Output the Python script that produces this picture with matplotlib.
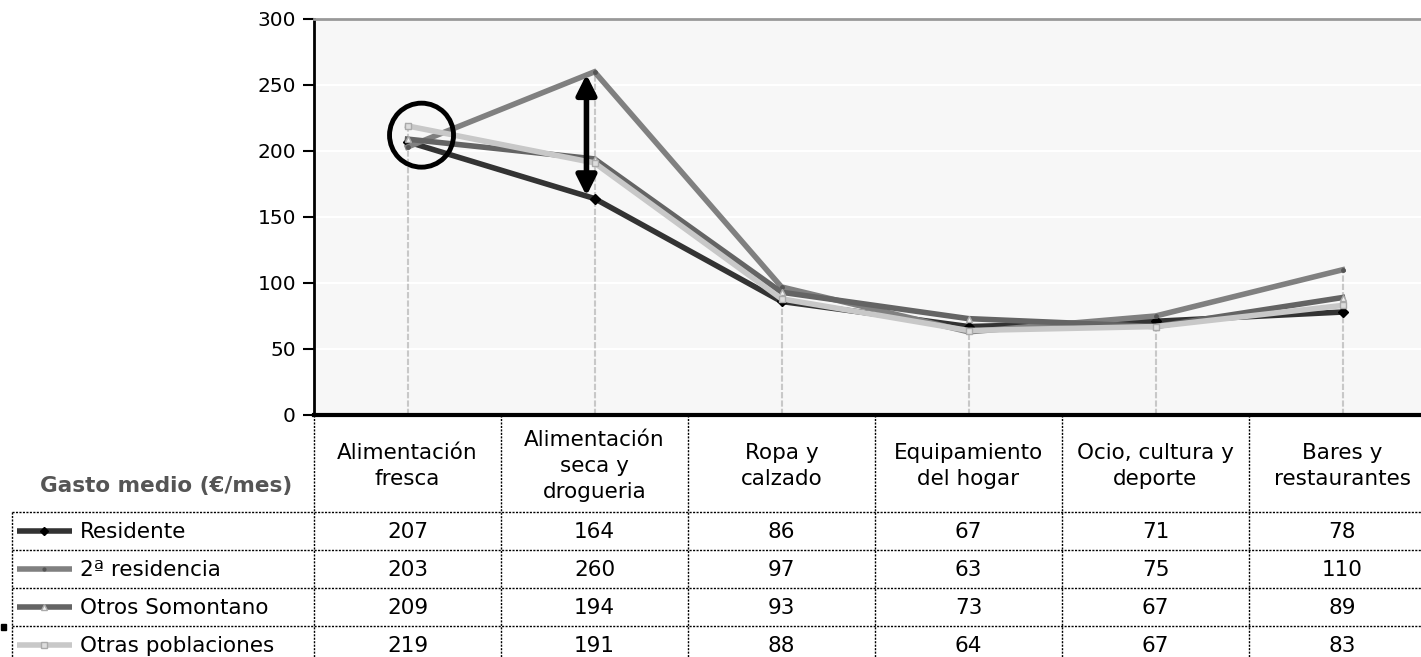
import numpy as np
import matplotlib
matplotlib.use("Agg")
import matplotlib.pyplot as plt
from matplotlib.patches import Ellipse, Rectangle, FancyArrowPatch

plt.rcParams["font.family"] = ["DejaVu Sans"]

# spending categories and monthly averages per group
categories = [
    "Alimentación\nfresca",
    "Alimentación\nseca y\ndrogueria",
    "Ropa y\ncalzado",
    "Equipamiento\ndel hogar",
    "Ocio, cultura y\ndeporte",
    "Bares y\nrestaurantes",
]
series_names = ["Residente", "2ª residencia", "Otros Somontano", "Otras poblaciones"]
residente = [207, 164, 86, 67, 71, 78]
segunda = [203, 260, 97, 63, 75, 110]
otros_somontano = [209, 194, 93, 73, 67, 89]
otras_poblaciones = [219, 191, 88, 64, 67, 83]
y_ticks = [0, 50, 100, 150, 200, 250, 300]
header_label = "Gasto medio (€/mes)"

series = [residente, segunda, otros_somontano, otras_poblaciones]
colors = ["#333333", "#808080", "#646464", "#c8c8c8"]
markers = ["D", ".", "^", "s"]
mfaces = ["#000000", "#555555", "#f0f0f0", "#dddddd"]
medges = ["#000000", "#555555", "#aaaaaa", "#aaaaaa"]

W, H = 1421, 657
fig = plt.figure(figsize=(W / 100, H / 100), dpi=100)

# plot area in pixels
x0, y_top, y_bot = 314, 19, 415
col_w = 187
n = len(categories)
fs = 15.5

ax = fig.add_axes([x0 / W, (H - y_bot) / H, n * col_w / W, (y_bot - y_top) / H])
ax.set_facecolor("#f7f7f7")
ax.set_xlim(-0.5, n - 0.5)
ax.set_ylim(0, 300)
ax.set_yticks(y_ticks)
ax.tick_params(axis="y", direction="out", length=8, width=1.5, labelsize=14.5, pad=5)
ax.set_xticks([])
for y in y_ticks[1:-1]:
    ax.axhline(y, color="white", lw=1.5, zorder=1)
ax.spines["left"].set_linewidth(2)
ax.spines["bottom"].set_linewidth(3)
ax.spines["top"].set_color("#999999")
ax.spines["top"].set_linewidth(2)
ax.spines["right"].set_visible(False)

xs = np.arange(n)
tops = np.max(np.array(series), axis=0)
ax.vlines(xs, 0, tops, colors="#c8c8c8", lw=1.5, linestyles=(0, (3, 1)), zorder=2)

for vals, c, m, mf, me in zip(series, colors, markers, mfaces, medges):
    ax.plot(xs, vals, color=c, lw=4, marker=m, markersize=5,
            markerfacecolor=mf, markeredgecolor=me, zorder=3,
            solid_joinstyle="miter")

# highlight of the first category and the spread on the second one
circ = Ellipse((0.075, 212), width=64 / col_w, height=64 / 1.32,
               fill=False, ec="black", lw=3.5, zorder=5)
ax.add_patch(circ)
arrow = FancyArrowPatch((0.957, 166), (0.957, 258), arrowstyle="<|-|>",
                        mutation_scale=30, lw=4, color="black", zorder=5,
                        shrinkA=0, shrinkB=0)
ax.add_patch(arrow)

# table drawn in pixel coordinates on an overlay
tab = fig.add_axes([0, 0, 1, 1], zorder=-1)
tab.set_xlim(0, W)
tab.set_ylim(H, 0)
tab.axis("off")

dot = dict(color="black", lw=1.0, linestyle=(0, (1.5, 1)))
row_lines = [512, 550, 588, 626, 664]
left = 12
right = x0 + n * col_w

for i in range(n + 1):
    xb = x0 + i * col_w
    tab.plot([xb, xb], [y_bot, H], **dot)
tab.plot([left, left], [row_lines[0], H], **dot)
for yl in row_lines:
    tab.plot([left, right], [yl, yl], **dot)

for i, cat in enumerate(categories):
    tab.text(x0 + (i + 0.5) * col_w, 466, cat, ha="center", va="center",
             fontsize=fs, linespacing=1.35)

tab.text(166, 486, header_label, ha="center", va="center", fontsize=fs,
         fontweight="bold", color="#555555")

for r, (name, vals) in enumerate(zip(series_names, series)):
    yc = (row_lines[r] + row_lines[r + 1]) / 2
    tab.plot([17, 72], [yc, yc], color=colors[r], lw=4, solid_capstyle="butt")
    tab.plot([44], [yc], marker=markers[r], markersize=4, color=mfaces[r],
             markeredgecolor=medges[r], linestyle="none")
    tab.text(80, yc + 1, name, ha="left", va="center", fontsize=fs)
    for i, v in enumerate(vals):
        tab.text(x0 + (i + 0.5) * col_w, yc + 1, str(v), ha="center", va="center",
                 fontsize=fs)

tab.add_patch(Rectangle((1, 624), 5, 6, color="black"))

fig.savefig("out.png", dpi=100)
